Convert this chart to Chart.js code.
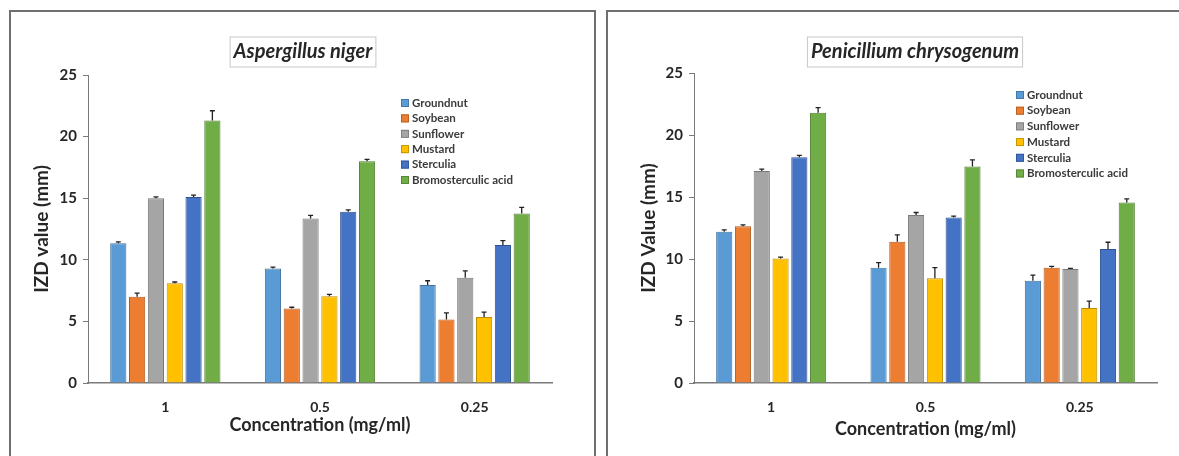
<!DOCTYPE html>
<html>
<head>
<meta charset="utf-8">
<script src="https://cdn.jsdelivr.net/npm/chart.js@4.4.1/dist/chart.umd.min.js"></script>
<style>
    body { margin: 0; background: #fff; width: 1179px; height: 456px; overflow: hidden; position: relative; }
    .panel { position: absolute; top: 10px; height: 460px; border: 2px solid #6f6f6f; border-bottom: none; box-sizing: border-box; }
    #p1 { left: 9px; width: 587px; }
    #p2 { left: 606px; width: 600px; }
    .wrap { position: absolute; top: 0; height: 456px; }
    #w1 { left: 0; width: 595px; }
    #w2 { left: 600px; width: 579px; }
</style>
</head>
<body>
<div class="panel" id="p1"></div>
<div class="panel" id="p2"></div>
<div class="wrap" id="w1"><canvas id="chartNiger"></canvas></div>
<div class="wrap" id="w2"><canvas id="chartChryso"></canvas></div>

<script>
/*  Données  */

const concentrations = ["1", "0.5", "0.25"];
const oils = ["Groundnut", "Soybean", "Sunflower", "Mustard", "Sterculia", "Bromosterculic acid"];

// Aspergillus niger
const nigerGroundnut = [11.35, 9.3, 7.95];
const nigerSoybean   = [7.0, 6.05, 5.15];
const nigerSunflower = [15.0, 13.35, 8.55];
const nigerMustard   = [8.1, 7.05, 5.35];
const nigerSterculia = [15.1, 13.9, 11.2];
const nigerBromo     = [21.3, 18.0, 13.75];

const nigerErrGroundnut = [0.1, 0.1, 0.35];
const nigerErrSoybean   = [0.3, 0.1, 0.55];
const nigerErrSunflower = [0.1, 0.25, 0.55];
const nigerErrMustard   = [0.1, 0.15, 0.4];
const nigerErrSterculia = [0.15, 0.15, 0.35];
const nigerErrBromo     = [0.8, 0.15, 0.5];

// Penicillium chrysogenum
const chrysoGroundnut = [12.2, 9.3, 8.25];
const chrysoSoybean   = [12.65, 11.4, 9.3];
const chrysoSunflower = [17.1, 13.55, 9.2];
const chrysoMustard   = [10.05, 8.45, 6.05];
const chrysoSterculia = [18.2, 13.35, 10.8];
const chrysoBromo     = [21.8, 17.45, 14.55];

const chrysoErrGroundnut = [0.15, 0.4, 0.45];
const chrysoErrSoybean   = [0.1, 0.55, 0.1];
const chrysoErrSunflower = [0.15, 0.2, 0.05];
const chrysoErrMustard   = [0.1, 0.85, 0.55];
const chrysoErrSterculia = [0.15, 0.1, 0.55];
const chrysoErrBromo     = [0.4, 0.55, 0.3];

const yTicks = [0, 5, 10, 15, 20, 25];


/*  Couleurs  */

const fills   = ["#5b9bd5", "#ed7d31", "#a5a5a5", "#ffc000", "#4472c4", "#70ad47"];
const borders = ["#41719c", "#ae5a21", "#787878", "#bc8c00", "#2f528f", "#507e32"];
const FONT = "Lato";
const TXT = "#262626";


/*  Plugins  */

const errorBars = {
    id: "errorBars",
    afterDatasetsDraw(chart) {
        const ctx = chart.ctx;
        const y = chart.scales.y;
        ctx.save();
        ctx.strokeStyle = "#222";
        ctx.lineWidth = 1.3;
        chart.data.datasets.forEach((ds, i) => {
            chart.getDatasetMeta(i).data.forEach((bar, j) => {
                const top = y.getPixelForValue(ds.data[j] + ds.err[j]);
                ctx.beginPath();
                ctx.moveTo(bar.x, bar.y);
                ctx.lineTo(bar.x, top);
                ctx.moveTo(bar.x - 2.5, top);
                ctx.lineTo(bar.x + 2.5, top);
                ctx.stroke();
            });
        });
        ctx.restore();
    }
};

const boxTitle = {
    id: "boxTitle",
    afterDraw(chart, args, opts) {
        const ctx = chart.ctx;
        ctx.save();
        ctx.font = "italic bold " + opts.size + "px " + FONT;
        const w = ctx.measureText(opts.text).width;
        ctx.strokeStyle = "#c8c8c8";
        ctx.lineWidth = 1;
        ctx.strokeRect(opts.x - w / 2 - 3.5, opts.y - 15, w + 7, 30);
        ctx.fillStyle = TXT;
        ctx.textAlign = "center";
        ctx.textBaseline = "middle";
        ctx.fillText(opts.text, opts.x, opts.y);
        ctx.restore();
    }
};

const sideLegend = {
    id: "sideLegend",
    afterDraw(chart, args, opts) {
        const ctx = chart.ctx;
        ctx.save();
        ctx.font = "bold 11.5px " + FONT;
        ctx.textBaseline = "middle";
        chart.data.datasets.forEach((ds, i) => {
            const yy = opts.y + i * opts.step;
            ctx.fillStyle = ds.backgroundColor;
            ctx.fillRect(opts.x, yy - 4, 8, 8);
            ctx.strokeStyle = ds.borderColor;
            ctx.lineWidth = 0.8;
            ctx.strokeRect(opts.x + 0.5, yy - 3.5, 7, 7);
            ctx.fillStyle = "#3a3a3a";
            ctx.fillText(ds.label, opts.x + 11, yy);
        });
        ctx.restore();
    }
};


/*  Graphique  */

function createChart(canvasId, series, errs, cfg) {
    const datasets = oils.map((name, i) => ({
        label: name,
        data: series[i],
        err: errs[i],
        backgroundColor: fills[i],
        borderColor: borders[i],
        borderWidth: 1,
        categoryPercentage: 0.73,
        barPercentage: 0.86
    }));

    new Chart(document.getElementById(canvasId), {
        type: "bar",
        data: { labels: concentrations, datasets },
        plugins: [errorBars, boxTitle, sideLegend],
        options: {
            responsive: true,
            maintainAspectRatio: false,
            animation: false,
            layout: { padding: { left: 0, right: cfg.padRight, top: cfg.top, bottom: 13 } },
            plugins: {
                legend: { display: false },
                tooltip: { enabled: false },
                boxTitle: { text: cfg.title, x: cfg.titleX, y: 52, size: 20 },
                sideLegend: { x: cfg.legX, y: cfg.legY, step: cfg.legStep }
            },
            scales: {
                x: {
                    offset: true,
                    grid: { display: false },
                    border: { color: "#7a7a7a", width: 1.5 },
                    ticks: { color: TXT, font: { family: FONT, size: 14, weight: "bold" }, padding: 8 },
                    title: {
                        display: true, text: "Concentration (mg/ml)", color: TXT,
                        font: { family: FONT, size: 18, weight: "bold" },
                        padding: { top: 0, bottom: cfg.xTitlePad }
                    },
                    afterFit: s => { s.height = 60; }
                },
                y: {
                    min: 0, max: 25,
                    afterBuildTicks: s => { s.ticks = yTicks.map(v => ({ value: v })); },
                    grid: { drawOnChartArea: false, drawTicks: true, tickLength: 5, color: "#7a7a7a", lineWidth: 1 },
                    border: { color: "#7a7a7a", width: 1 },
                    ticks: { color: TXT, font: { family: FONT, size: 15, weight: "bold" }, padding: 6 },
                    title: {
                        display: true, text: cfg.yTitle, color: TXT,
                        font: { family: FONT, size: 19, weight: "bold" },
                        padding: { top: cfg.yTitlePad, bottom: 0 }
                    },
                    afterFit: s => { s.width = cfg.left; }
                }
            }
        }
    });
}

createChart("chartNiger",
    [nigerGroundnut, nigerSoybean, nigerSunflower, nigerMustard, nigerSterculia, nigerBromo],
    [nigerErrGroundnut, nigerErrSoybean, nigerErrSunflower, nigerErrMustard, nigerErrSterculia, nigerErrBromo],
    { title: "Aspergillus niger", titleX: 303, yTitle: "IZD value (mm)", left: 88, padRight: 43, top: 75,
      yTitlePad: 30, xTitlePad: 7, legX: 401, legY: 103, legStep: 15.4 });

createChart("chartChryso",
    [chrysoGroundnut, chrysoSoybean, chrysoSunflower, chrysoMustard, chrysoSterculia, chrysoBromo],
    [chrysoErrGroundnut, chrysoErrSoybean, chrysoErrSunflower, chrysoErrMustard, chrysoErrSterculia, chrysoErrBromo],
    { title: "Penicillium chrysogenum", titleX: 315, yTitle: "IZD Value (mm)", left: 94, padRight: 22, top: 73,
      yTitlePad: 37, xTitlePad: 3, legX: 416, legY: 95, legStep: 15.7 });
</script>
</body>
</html>
